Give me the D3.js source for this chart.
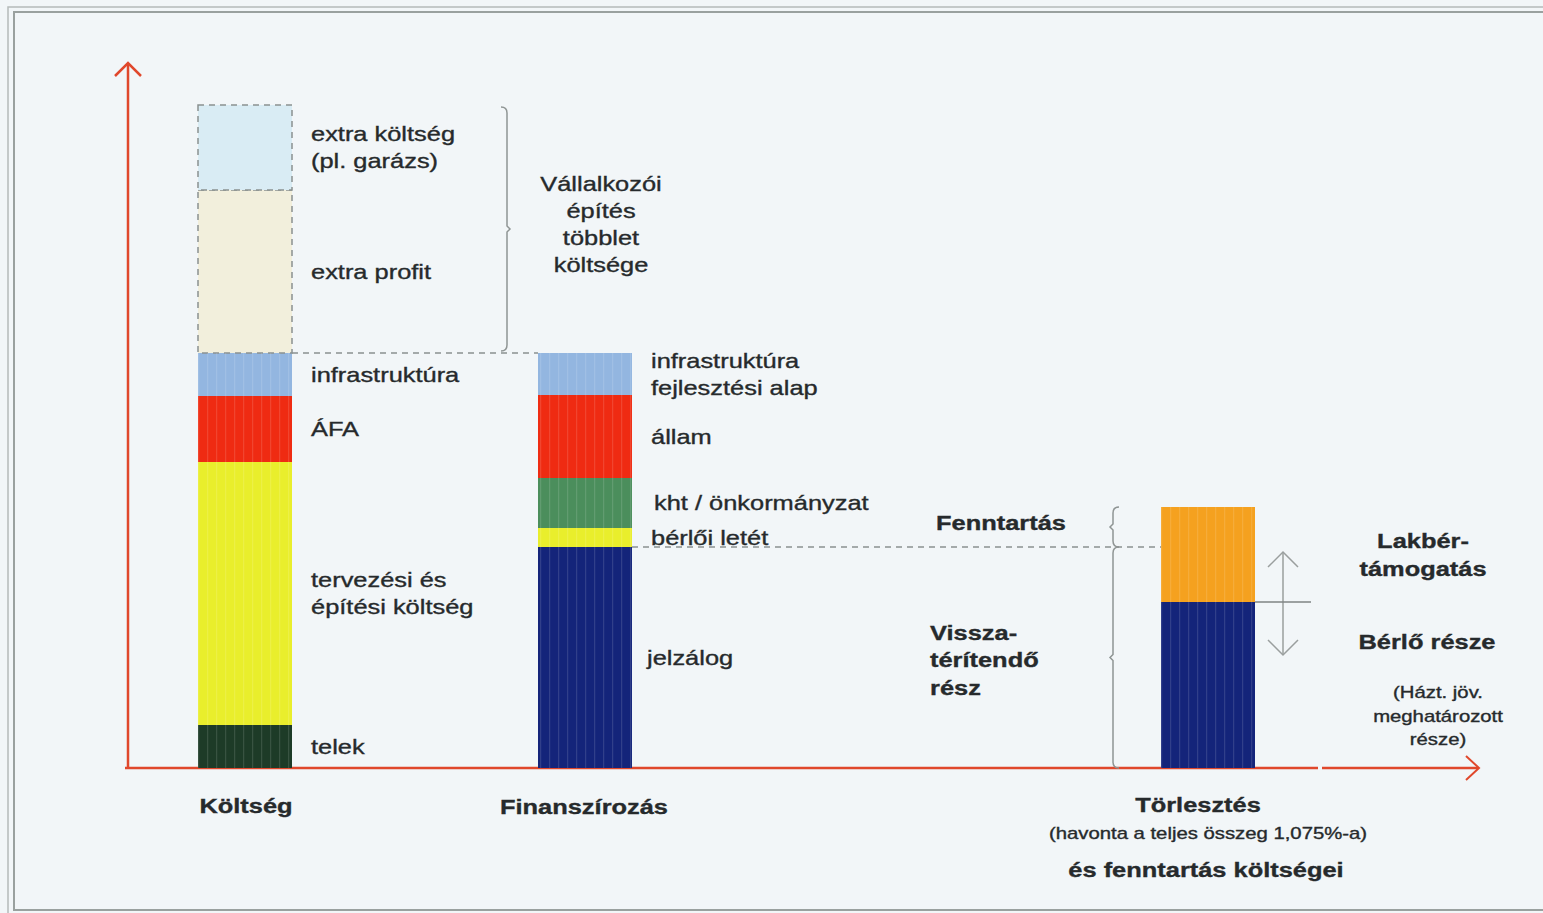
<!DOCTYPE html>
<html>
<head>
<meta charset="utf-8">
<script src="https://d3js.org/d3.v7.min.js"></script>
<style>
  body { margin: 0; background: #f2f6f8; }
  svg { display: block; font-family: "Liberation Sans", Arial, sans-serif; }
</style>
</head>
<body>
<div id="chart"></div>
<script>
// Data (bar heights, in arbitrary units, bottom -> top)
var categories = ["Költség", "Finanszírozás", "Törlesztés"];
var koltsegSegments = ["telek", "tervezési és építési költség", "ÁFA", "infrastruktúra", "extra profit", "extra költség (pl. garázs)"];
var koltsegValues   = [43, 263, 66, 43, 163, 85];
var finanszSegments = ["jelzálog", "bérlői letét", "kht / önkormányzat", "állam", "infrastruktúra fejlesztési alap"];
var finanszValues   = [221, 19, 50, 83, 42];
var torlesztSegments = ["Bérlő része", "Lakbér-támogatás"];
var torlesztValues   = [166, 95];
var yMax = 703;

// styles per segment
var colors = {
  "telek": "#1d3b27",
  "tervezési és építési költség": "#e9ee2c",
  "ÁFA": "#ef2b12",
  "infrastruktúra": "#93b6e0",
  "extra profit": "#f2efdc",
  "extra költség (pl. garázs)": "#d9ecf4",
  "jelzálog": "#14247a",
  "bérlői letét": "#e9ee2c",
  "kht / önkormányzat": "#4b8e5c",
  "állam": "#ef2b12",
  "infrastruktúra fejlesztési alap": "#93b6e0",
  "Bérlő része": "#14247a",
  "Lakbér-támogatás": "#f5a11f"
};
var dashedSegs = ["extra profit", "extra költség (pl. garázs)"];

// label lines drawn beside each segment
var segLabels = {
  "telek": ["telek"],
  "tervezési és építési költség": ["tervezési és", "építési költség"],
  "ÁFA": ["ÁFA"],
  "infrastruktúra": ["infrastruktúra"],
  "extra profit": ["extra profit"],
  "extra költség (pl. garázs)": ["extra költség", "(pl. garázs)"],
  "jelzálog": ["jelzálog"],
  "bérlői letét": ["bérlői letét"],
  "kht / önkormányzat": ["kht / önkormányzat"],
  "állam": ["állam"],
  "infrastruktúra fejlesztési alap": ["infrastruktúra", "fejlesztési alap"]
};

var W = 1543, H = 913;
var svg = d3.select("#chart").append("svg")
  .attr("width", W).attr("height", H);

// frame
svg.append("rect").attr("x", 8).attr("y", 7).attr("width", W + 20).attr("height", 908)
  .attr("fill", "none").attr("stroke", "#b5bbb9").attr("stroke-width", 1.5);
svg.append("rect").attr("x", 14).attr("y", 12).attr("width", W + 20).attr("height", 898)
  .attr("fill", "none").attr("stroke", "#9aa19f").attr("stroke-width", 2);

// stripe texture like the scanned bars
var defs = svg.append("defs");
var pat = defs.append("pattern").attr("id", "stripes")
  .attr("patternUnits", "userSpaceOnUse").attr("width", 9).attr("height", 9);
pat.append("rect").attr("x", 0).attr("y", 0).attr("width", 1.2).attr("height", 9)
  .attr("fill", "#ffffff").attr("opacity", 0.12);

// scales
var y = d3.scaleLinear().domain([0, yMax]).range([768, 65]);
var x = d3.scaleOrdinal().domain(categories).range([245, 585, 1208]);
var barW = 94;

function stack(cat, names, values) {
  var acc = 0;
  return names.map(function(n, i) {
    var d = { cat: cat, name: n, y0: acc, y1: acc + values[i] };
    acc += values[i];
    return d;
  });
}
var segs = [].concat(
  stack(categories[0], koltsegSegments, koltsegValues),
  stack(categories[1], finanszSegments, finanszValues),
  stack(categories[2], torlesztSegments, torlesztValues)
);

// axes (red arrows)
var axisColor = "#e0482c";
svg.append("line").attr("x1", 128).attr("x2", 128).attr("y1", y(0) + 1).attr("y2", y(yMax) - 2)
  .attr("stroke", axisColor).attr("stroke-width", 2.5);
svg.append("path").attr("d", "M115,76 L128,63 L141,76").attr("fill", "none")
  .attr("stroke", axisColor).attr("stroke-width", 2.5);
svg.append("line").attr("x1", 125).attr("x2", 1318).attr("y1", y(0)).attr("y2", y(0))
  .attr("stroke", axisColor).attr("stroke-width", 2.5);
svg.append("line").attr("x1", 1322).attr("x2", 1478).attr("y1", y(0)).attr("y2", y(0))
  .attr("stroke", axisColor).attr("stroke-width", 2.5);
svg.append("path").attr("d", "M1466,756 L1479,768 L1466,780").attr("fill", "none")
  .attr("stroke", axisColor).attr("stroke-width", 2);

// bars
var g = svg.append("g");
g.selectAll("rect.seg").data(segs).enter().append("rect")
  .attr("class", "seg")
  .attr("x", function(d) { return x(d.cat) - barW / 2; })
  .attr("width", barW)
  .attr("y", function(d) { return y(d.y1); })
  .attr("height", function(d) { return y(d.y0) - y(d.y1); })
  .attr("fill", function(d) { return colors[d.name]; })
  .attr("stroke", function(d) { return dashedSegs.indexOf(d.name) >= 0 ? "#8a9190" : "none"; })
  .attr("stroke-width", 1.5)
  .attr("stroke-dasharray", function(d) { return dashedSegs.indexOf(d.name) >= 0 ? "6,5" : null; });
g.selectAll("rect.tex").data(segs.filter(function(d) { return dashedSegs.indexOf(d.name) < 0; }))
  .enter().append("rect")
  .attr("x", function(d) { return x(d.cat) - barW / 2; })
  .attr("width", barW)
  .attr("y", function(d) { return y(d.y1); })
  .attr("height", function(d) { return y(d.y0) - y(d.y1); })
  .attr("fill", "url(#stripes)");

// text helper: the scan's lettering is horizontally stretched Arial
var txtColor = "#262a2c";
function multi(xc, yc, lines, opts) {
  var sx = opts.sx || 1.24;
  var t = svg.append("g")
    .attr("transform", "translate(" + xc + "," + yc + ") scale(" + sx + ",1)")
    .append("text").attr("text-anchor", opts.anchor || "middle")
    .attr("font-size", opts.size).attr("font-weight", opts.weight || "normal")
    .attr("fill", txtColor)
    .attr("stroke", txtColor).attr("stroke-width", 0.35);
  lines.forEach(function(s, i) {
    t.append("tspan").attr("x", 0)
      .attr("y", (i - (lines.length - 1) / 2) * opts.lh)
      .attr("dy", "0.35em").text(s);
  });
}

// segment labels
segs.filter(function(d) { return segLabels[d.name]; }).forEach(function(d) {
  var x0 = x(d.cat) + barW / 2 + 19;
  if (d.name === "kht / önkormányzat") x0 += 3;
  if (d.name === "jelzálog") x0 -= 4;
  multi(x0, y((d.y0 + d.y1) / 2), segLabels[d.name], { size: 20.5, lh: 27, anchor: "start" });
});

// dashed guide lines
var kTop = segs.filter(function(d) { return d.name === "infrastruktúra"; })[0];
svg.append("line")
  .attr("x1", x(categories[0]) + barW / 2).attr("x2", x(categories[1]) - barW / 2)
  .attr("y1", y(kTop.y1)).attr("y2", y(kTop.y1))
  .attr("stroke", "#8a9190").attr("stroke-width", 1.5).attr("stroke-dasharray", "6,5");
var jz = segs.filter(function(d) { return d.name === "jelzálog"; })[0];
svg.append("line")
  .attr("x1", x(categories[1]) + barW / 2).attr("x2", x(categories[2]) - barW / 2)
  .attr("y1", y(jz.y1)).attr("y2", y(jz.y1))
  .attr("stroke", "#8a9190").attr("stroke-width", 1.5).attr("stroke-dasharray", "6,5");

// braces
function brace(xb, top, bot, dir) {
  // dir = +1 tip to the right, -1 tip to the left
  var mid = (top + bot) / 2, h = 6;
  var p = "M" + (xb - dir * h) + "," + top +
    " Q" + xb + "," + top + " " + xb + "," + (top + h) +
    " L" + xb + "," + (mid - 3) +
    " L" + (xb + dir * 3) + "," + mid +
    " L" + xb + "," + (mid + 3) +
    " L" + xb + "," + (bot - h) +
    " Q" + xb + "," + bot + " " + (xb - dir * h) + "," + bot;
  svg.append("path").attr("d", p).attr("fill", "none")
    .attr("stroke", "#8f9594").attr("stroke-width", 1.5);
}
var ek = segs.filter(function(d) { return d.name === "extra költség (pl. garázs)"; })[0];
brace(507, y(ek.y1) + 2, y(kTop.y1) - 2, 1);
var lt = segs.filter(function(d) { return d.name === "Lakbér-támogatás"; })[0];
var br = segs.filter(function(d) { return d.name === "Bérlő része"; })[0];
brace(1113, y(lt.y1), y(jz.y1), -1);
brace(1113, y(jz.y1), y(0), -1);

// brace texts
multi(601, 224, ["Vállalkozói", "építés", "többlet", "költsége"], { size: 20.5, lh: 27 });
multi(1001, 523, ["Fenntartás"], { size: 20.5, weight: "bold", lh: 27 });
multi(930, 660, ["Vissza-", "térítendő", "rész"], { size: 20.5, weight: "bold", lh: 27.5, anchor: "start" });

// right side labels of the repayment bar
multi(1423, 555, ["Lakbér-", "támogatás"], { size: 20.5, weight: "bold", lh: 28 });
multi(1427, 642, ["Bérlő része"], { size: 20.5, weight: "bold", lh: 27 });
multi(1438, 716, ["(Házt. jöv.", "meghatározott", "része)"], { size: 16, lh: 23.5, sx: 1.27 });

// double-headed arrow and split line
var ay1 = y(lt.y1) + 45, ay2 = y(0) - 113;
svg.append("line").attr("x1", 1283).attr("x2", 1283).attr("y1", ay1).attr("y2", ay2)
  .attr("stroke", "#9a9f9e").attr("stroke-width", 1.5);
svg.append("path").attr("d", "M1268," + (ay1 + 15) + " L1283," + ay1 + " L1298," + (ay1 + 15))
  .attr("fill", "none").attr("stroke", "#9a9f9e").attr("stroke-width", 1.5);
svg.append("path").attr("d", "M1268," + (ay2 - 15) + " L1283," + ay2 + " L1298," + (ay2 - 15))
  .attr("fill", "none").attr("stroke", "#9a9f9e").attr("stroke-width", 1.5);
svg.append("line").attr("x1", x(categories[2]) + barW / 2).attr("x2", 1311)
  .attr("y1", y(br.y1)).attr("y2", y(br.y1))
  .attr("stroke", "#7f8584").attr("stroke-width", 1.5);

// category labels
multi(x(categories[0]) + 1, 806, [categories[0]], { size: 20.5, weight: "bold", lh: 27 });
multi(x(categories[1]) - 1, 807, [categories[1]], { size: 20.5, weight: "bold", lh: 27 });
multi(1198, 805, [categories[2]], { size: 20.5, weight: "bold", lh: 27 });
multi(1208, 833, ["(havonta a teljes összeg 1,075%-a)"], { size: 16, lh: 20, sx: 1.27 });
multi(1206, 870, ["és fenntartás költségei"], { size: 20.5, weight: "bold", lh: 27 });
</script>
</body>
</html>
